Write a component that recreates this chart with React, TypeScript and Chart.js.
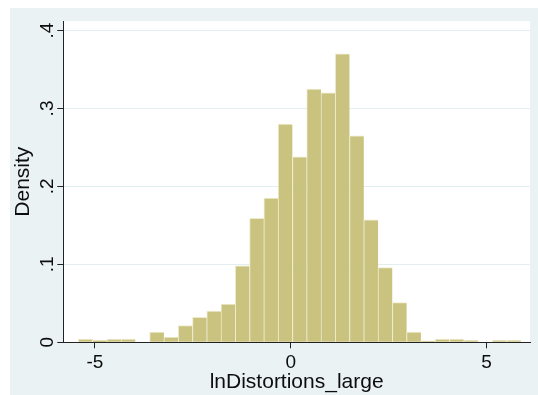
import React, { useEffect, useRef } from "react";
import { Chart, registerables } from "chart.js";

Chart.register(...registerables);

const binCenters = [
  -5.24, -4.876, -4.511, -4.147, -3.782, -3.418, -3.053, -2.689, -2.325, -1.96,
  -1.596, -1.231, -0.867, -0.502, -0.138, 0.227, 0.591, 0.956, 1.32, 1.684,
  2.049, 2.413, 2.778, 3.142, 3.507, 3.871, 4.236, 4.6, 4.964, 5.329, 5.693,
];
const densities = [
  0.004, 0.0025, 0.004, 0.004, 0, 0.013, 0.0068, 0.0215, 0.032, 0.04,
  0.049, 0.098, 0.159, 0.185, 0.28, 0.238, 0.325, 0.32, 0.37, 0.265,
  0.157, 0.096, 0.051, 0.013, 0.002, 0.0042, 0.0042, 0.0026, 0, 0.0026, 0.0026,
];
const xTickValues = [-5, 0, 5];
const yTickValues = [0, 0.1, 0.2, 0.3, 0.4];
const yTickLabels = ["0", ".1", ".2", ".3", ".4"];
const xTitle = "lnDistortions_large";
const yTitle = "Density";

const FONT = "'Liberation Sans', Arial, sans-serif";

export default function App() {
  const ref = useRef<HTMLCanvasElement | null>(null);
  useEffect(() => {
    document.body.style.margin = "0";
    const canvas = ref.current!;
    const bgPlugin = {
      id: "bg",
      beforeDraw(chart: any) {
        const { ctx, chartArea } = chart;
        ctx.save();
        ctx.fillStyle = "#ffffff";
        ctx.fillRect(0, 0, chart.width, chart.height);
        ctx.fillStyle = "#eaf2f3";
        ctx.fillRect(10, 8, chart.width - 10, chart.height - 8);
        ctx.fillStyle = "#ffffff";
        ctx.fillRect(chartArea.left, chartArea.top, chartArea.right - chartArea.left, chartArea.bottom - chartArea.top);
        ctx.restore();
      },
      afterDraw(chart: any) {
        const { ctx, chartArea } = chart;
        const ys = chart.scales.y;
        ctx.save();
        ctx.fillStyle = "#0d0d0d";
        ctx.font = `19px ${FONT}`;
        ctx.textAlign = "center";
        ctx.textBaseline = "alphabetic";
        yTickValues.forEach((v, i) => {
          const y = ys.getPixelForValue(v);
          ctx.save();
          ctx.translate(chartArea.left - 10, y);
          ctx.rotate(-Math.PI / 2);
          ctx.fillText(yTickLabels[i], 0, 0);
          ctx.restore();
        });
        ctx.font = `21px ${FONT}`;
        ctx.save();
        ctx.translate(28.5, (chartArea.top + chartArea.bottom) / 2);
        ctx.rotate(-Math.PI / 2);
        ctx.fillText(yTitle, 0, 0);
        ctx.restore();
        ctx.restore();
      },
    };
    const chart = new Chart(canvas, {
      type: "bar",
      data: {
        datasets: [
          {
            data: binCenters.map((x, i) => ({ x, y: densities[i] })),
            backgroundColor: "#cac380",
            borderColor: "#eeebcc",
            borderWidth: { top: 1, left: 1, right: 0, bottom: 0 } as any,
            borderSkipped: false as any,
            barPercentage: 1,
            categoryPercentage: 1,
          },
        ],
      },
      options: {
        animation: false,
        responsive: false,
        maintainAspectRatio: false,
        layout: { padding: { left: 10, top: 21, right: 8, bottom: 0 } },
        plugins: { legend: { display: false }, tooltip: { enabled: false } },
        scales: {
          x: {
            type: "linear",
            min: -5.805,
            max: 6.109,
            offset: false,
            afterFit(scale: any) {
              scale.height = 52.7;
            },
            afterBuildTicks(scale: any) {
              scale.ticks = xTickValues.map((v) => ({ value: v }));
            },
            grid: {
              drawOnChartArea: false,
              drawTicks: true,
              tickLength: 6,
              tickColor: "#222222",
              offset: false,
            },
            border: { display: true, color: "#222222", width: 1 },
            ticks: {
              color: "#0d0d0d",
              font: { family: FONT, size: 19 },
              padding: 3,
              maxRotation: 0,
              autoSkip: false,
              callback: (v: any) => String(v),
            },
            title: {
              display: true,
              text: xTitle,
              color: "#0d0d0d",
              font: { family: FONT, size: 21 },
              padding: { top: 0, bottom: 0 },
            },
          },
          y: {
            type: "linear",
            min: 0,
            max: 0.4122,
            afterFit(scale: any) {
              scale.width = 53.3;
            },
            afterBuildTicks(scale: any) {
              scale.ticks = yTickValues.map((v) => ({ value: v }));
            },
            grid: {
              color: (c: any) => (c.tick && c.tick.value === 0 ? "rgba(0,0,0,0)" : "#e3eef0"),
              drawTicks: true,
              tickLength: 6,
              tickColor: "#222222",
            },
            border: { display: true, color: "#222222", width: 1 },
            ticks: { display: false },
          },
        },
      },
      plugins: [bgPlugin],
    });
    return () => chart.destroy();
  }, []);
  return <canvas ref={ref} width={538} height={395} style={{ display: "block" }} />;
}
